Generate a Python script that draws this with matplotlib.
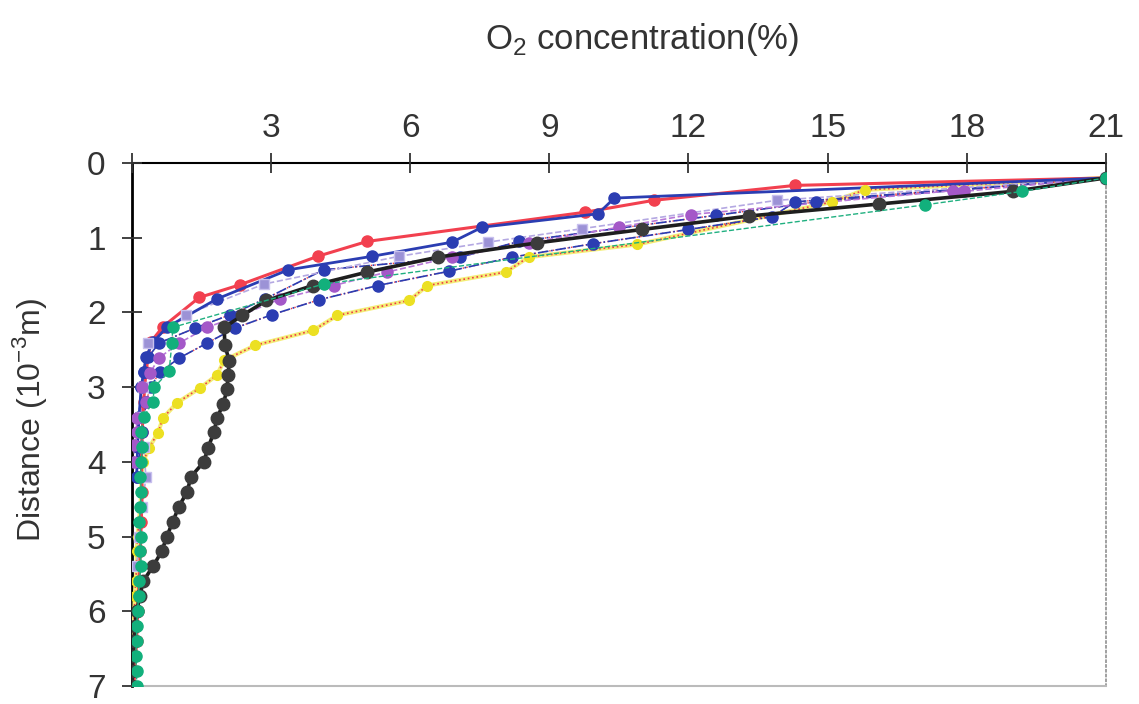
import matplotlib.pyplot as plt

plt.rcParams['font.family'] = ['Liberation Sans Narrow', 'Liberation Sans', 'DejaVu Sans']
plt.rcParams['mathtext.fontset'] = 'custom'
plt.rcParams['mathtext.rm'] = 'Liberation Sans'

# O2 profiles: concentration (%) vs distance (10^-3 m)
red_x = [21, 14.3, 11.25, 9.76, 5.07, 4.0, 2.33, 1.45, 0.67, 0.4, 0.3, 0.25, 0.22, 0.2, 0.22, 0.2, 0.18, 0.15, 0.12, 0.1, 0.06, 0.04]
red_y = [0.2, 0.3, 0.5, 0.66, 1.05, 1.25, 1.63, 1.8, 2.19, 2.4, 2.8, 3.2, 3.6, 4.0, 4.4, 4.8, 5.2, 5.6, 6.0, 6.4, 6.8, 7.0]

blue_x = [21, 10.4, 10.05, 7.55, 6.9, 5.17, 3.37, 1.83, 0.75, 0.45, 0.3, 0.25, 0.2, 0.15, 0.12, 0.1]
blue_y = [0.2, 0.47, 0.68, 0.86, 1.06, 1.25, 1.43, 1.82, 2.2, 2.4, 2.6, 2.8, 3.0, 3.4, 3.8, 4.2]

black_x = [21, 19.0, 16.1, 13.3, 11.0, 8.73, 6.6, 5.07, 3.9, 2.9, 2.38, 1.99, 2.0, 2.1, 2.07, 2.05,
           1.97, 1.83, 1.77, 1.64, 1.55, 1.27, 1.19, 1.01, 0.88, 0.75, 0.64, 0.45, 0.24, 0.17, 0.1,
           0.06, 0.04, 0.02, 0.01, 0.0]
black_y = [0.2, 0.38, 0.55, 0.71, 0.89, 1.07, 1.26, 1.46, 1.64, 1.84, 2.04, 2.2, 2.44, 2.65, 2.84, 3.03,
           3.22, 3.42, 3.6, 3.81, 4.0, 4.2, 4.4, 4.6, 4.8, 5.0, 5.2, 5.4, 5.6, 5.8, 6.0,
           6.2, 6.4, 6.6, 6.8, 7.0]

yellow_x = [21, 15.8, 15.1, 10.9, 8.55, 8.06, 6.37, 5.98, 4.43, 3.91, 2.66, 1.99, 1.83, 1.47, 0.97,
            0.67, 0.56, 0.37, 0.24, 0.2, 0.2, 0.18, 0.15, 0.12, 0.1, 0.1, 0.08, 0.06, 0.05, 0.04,
            0.03, 0.02, 0.01, 0.0]
yellow_y = [0.2, 0.36, 0.52, 1.09, 1.26, 1.46, 1.64, 1.84, 2.04, 2.24, 2.44, 2.64, 2.84, 3.01, 3.21,
            3.41, 3.61, 3.81, 4.0, 4.2, 4.4, 4.6, 4.8, 5.0, 5.2, 5.4, 5.6, 5.8, 6.0, 6.2,
            6.4, 6.6, 6.8, 7.0]

blue2_x = [21, 14.75, 12.6, 8.35, 7.08, 4.13, 2.87, 2.12, 1.36, 0.58, 0.35, 0.25, 0.2, 0.15, 0.12, 0.1]
blue2_y = [0.2, 0.52, 0.70, 1.05, 1.26, 1.43, 1.82, 2.03, 2.21, 2.41, 2.6, 2.8, 3.0, 3.4, 3.8, 4.2]

blue3_x = [21, 14.3, 13.8, 12.0, 9.95, 8.2, 6.83, 5.3, 4.04, 3.02, 2.22, 1.62, 1.02, 0.6, 0.4, 0.3, 0.22, 0.15]
blue3_y = [0.2, 0.52, 0.72, 0.89, 1.08, 1.26, 1.45, 1.64, 1.83, 2.03, 2.21, 2.41, 2.61, 2.8, 3.0, 3.2, 3.6, 4.0]

lav_x = [21, 13.9, 9.7, 7.67, 5.75, 2.85, 1.16, 0.35, 0.24, 0.2, 0.25, 0.3, 0.22, 0.15, 0.1]
lav_y = [0.2, 0.5, 0.88, 1.06, 1.25, 1.62, 2.03, 2.41, 3.0, 3.4, 3.8, 4.2, 4.6, 5.0, 5.4]

violet_x = [21, 17.95, 17.7, 12.05, 10.5, 8.55, 6.9, 5.5, 4.35, 3.2, 2.38, 1.62, 1.02, 0.58, 0.39,
            0.22, 0.3, 0.1, 0.1, 0.05, 0.05]
violet_y = [0.2, 0.38, 0.37, 0.69, 0.86, 1.07, 1.26, 1.46, 1.64, 1.82, 2.03, 2.2, 2.41, 2.61, 2.81,
            3.0, 3.2, 3.41, 3.6, 3.78, 4.0]

green_x = [21, 19.2, 17.1, 4.13, 0.88, 0.86, 0.8, 0.48, 0.45, 0.25, 0.2, 0.22, 0.2, 0.18, 0.2, 0.18,
           0.16, 0.2, 0.18, 0.2, 0.15, 0.14, 0.12, 0.1, 0.1, 0.08, 0.1, 0.1]
green_y = [0.2, 0.38, 0.56, 1.62, 2.2, 2.41, 2.79, 3.0, 3.2, 3.4, 3.6, 3.8, 4.0, 4.2, 4.4, 4.6,
           4.8, 5.0, 5.2, 5.4, 5.6, 5.8, 6.0, 6.2, 6.4, 6.6, 6.8, 7.0]

x_ticks = [0, 3, 6, 9, 12, 15, 18, 21]
x_tick_labels = ['', '3', '6', '9', '12', '15', '18', '21']
y_ticks = [0, 1, 2, 3, 4, 5, 6, 7]

fig = plt.figure(figsize=(11.39, 7.04), dpi=100)
ax = fig.add_axes([0.1159, 0.0256, 0.855, 0.7429])

ms = 8
ax.plot(red_x, red_y, '-o', color='#f2404f', lw=2.2, ms=ms, zorder=3)
ax.plot(blue_x, blue_y, '-o', color='#2b3db2', lw=2.0, ms=ms, zorder=3)

ax.plot(yellow_x, yellow_y, '-', color='#f4ee78', lw=3, zorder=2)
ax.plot(yellow_x, yellow_y, ':', color='#ee3a45', lw=1.2, zorder=2)
ax.plot(yellow_x, yellow_y, 'o', color='#ece022', ms=ms - 1, zorder=3)

for bx, by in [(blue2_x, blue2_y), (blue3_x, blue3_y)]:
    ax.plot(bx, by, ':', color='#ee3a45', lw=1.0, zorder=2)
    ax.plot(bx, by, '-.', color='#2b3db2', lw=1.2, zorder=2)
    ax.plot(bx, by, 'o', color='#2b3db2', ms=ms, zorder=3)

ax.plot(lav_x, lav_y, '--', color='#b4a8e2', lw=1.2, zorder=2)
ax.plot(lav_x, lav_y, 's', color='#9c92d6', mec='#c8c0ee', ms=ms - 1, zorder=3)

ax.plot(violet_x, violet_y, '--', color='#b878d8', lw=1.2, zorder=2)
ax.plot(violet_x, violet_y, 'o', color='#a458c8', ms=ms, zorder=3)

ax.plot(black_x, black_y, '-o', color='#1e1e1e', mfc='#3c3c3c', mec='#3c3c3c', lw=2.6, ms=ms + 1, zorder=4)

ax.plot(green_x, green_y, '--', color='#20b080', lw=1.0, zorder=4)
ax.plot(green_x, green_y, 'o', color='#12b07c', ms=ms, zorder=5)

ax.set_xlim(0, 21)
ax.set_ylim(7, 0)
ax.xaxis.tick_top()
ax.set_xticks(x_ticks)
ax.set_xticklabels(x_tick_labels)
ax.set_yticks(y_ticks)
ax.tick_params(axis='x', direction='inout', length=14, width=1.3, pad=7, labelsize=24, colors='#333333')
ax.tick_params(axis='y', direction='inout', length=14, width=1.3, pad=12, labelsize=24, colors='#333333')

ax.spines['top'].set_linewidth(1.5)
ax.spines['left'].set_linewidth(2)
ax.spines['bottom'].set_color('#bbbbbb')
ax.spines['bottom'].set_linewidth(1.5)
ax.spines['right'].set_color('#999999')
ax.spines['right'].set_linestyle(':')
ax.spines['right'].set_linewidth(1.3)
for s in ax.spines.values():
    s.set_zorder(1)

fig.text(642 / 1139, 1 - 40 / 704, 'O$_2$ concentration(%)', ha='center', va='center',
         fontsize=25, color='#333333')
fig.text(30 / 1139, 1 - 420 / 704, 'Distance (10$^{-3}$m)', ha='center', va='center',
         rotation=90, fontsize=23, color='#333333')

fig.savefig('out.png', dpi=100)
